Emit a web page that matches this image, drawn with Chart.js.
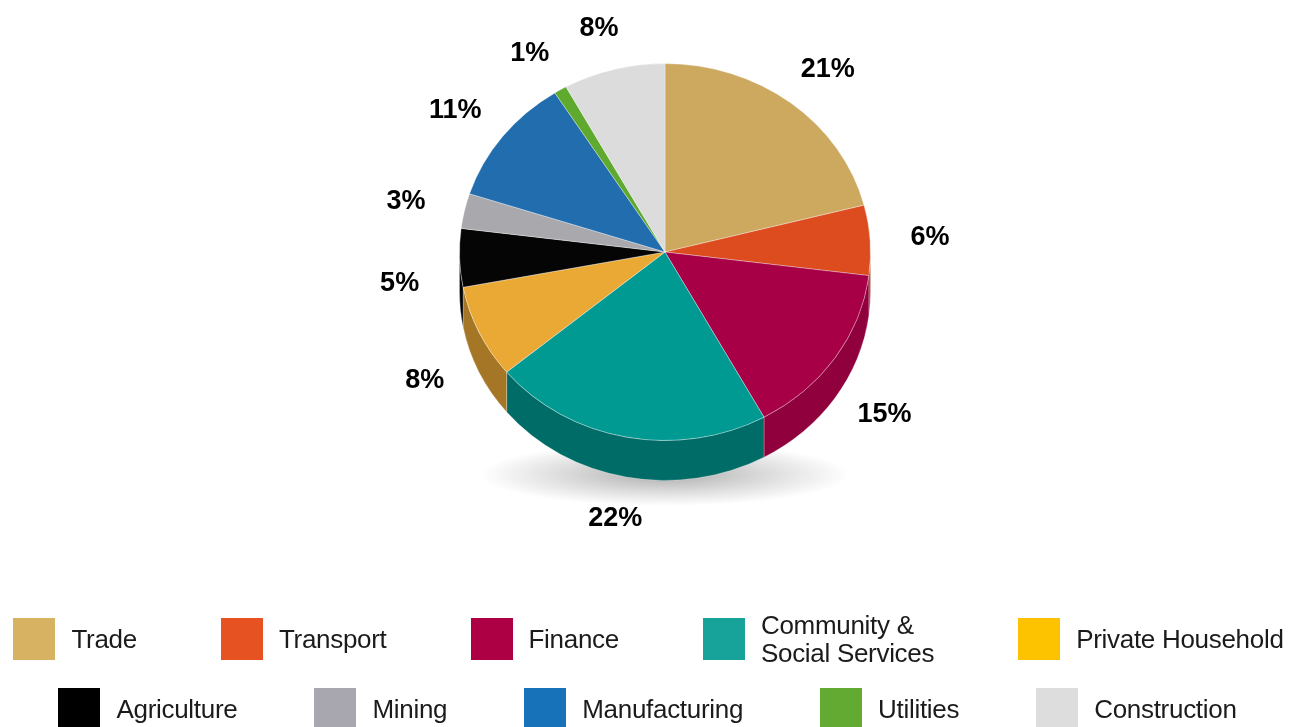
<!DOCTYPE html>
<html>
<head>
<meta charset="utf-8">
<script src="https://cdn.jsdelivr.net/npm/chart.js@4/dist/chart.umd.min.js"></script>
<style>
  html, body { margin: 0; padding: 0; background: #fff; }
  #wrap { position: relative; width: 1289px; height: 727px; overflow: hidden; }
  #chart { position: absolute; left: 0; top: 0; }
  .legend-row { position: absolute; width: 1289px; height: 42px; display: flex; justify-content: center; align-items: center; }
  #row1 { top: 618px; left: 4px; column-gap: 84px; }
  #row2 { top: 688px; left: 3px; column-gap: 77px; }
  .legend-item { display: flex; align-items: center; }
  .legend-box { width: 42px; height: 42px; flex: 0 0 42px; margin-right: 16px; }
  .legend-text { font-family: "Liberation Sans", Arial, sans-serif; font-size: 26px; color: #1b1b1b; line-height: 28px; white-space: pre-line; letter-spacing: -0.3px; }
</style>
</head>
<body>
<div id="wrap">
  <canvas id="chart" width="1289" height="727"></canvas>
  <div class="legend-row" id="row1"></div>
  <div class="legend-row" id="row2"></div>
</div>
<script>
// Employment share by sector (%)
const categories = ["Trade", "Transport", "Finance", "Community &\nSocial Services", "Private Household",
                    "Agriculture", "Mining", "Manufacturing", "Utilities", "Construction"];
const shares = [21, 6, 15, 22, 8, 5, 3, 11, 1, 8];
const pieColors = ["#CDA95F", "#DD4C1E", "#A80046", "#009A93", "#EAA935",
                   "#050505", "#A9A9AD", "#226DAE", "#5EA92E", "#DCDCDC"];
const legendColors = ["#D8B263", "#E75223", "#AD0044", "#17A39A", "#FDC300",
                      "#000000", "#A8A7AF", "#1872B9", "#62AA31", "#DDDDDD"];

const TILT = 0.917;   // vertical squash of the pie top
const DEPTH = 40;     // thickness of the pie wall

function shade(hex, f) {
  const n = parseInt(hex.slice(1), 16);
  const r = Math.round(((n >> 16) & 255) * f);
  const g = Math.round(((n >> 8) & 255) * f);
  const b = Math.round((n & 255) * f);
  return `rgb(${r},${g},${b})`;
}

// Draws the shadow and the wall of the pie, then tilts the top face.
const tiltedPie = {
  id: 'tiltedPie',
  beforeDatasetsDraw(chart) {
    const ctx = chart.ctx;
    const arcs = chart.getDatasetMeta(0).data;
    if (!arcs.length) return;
    const { x: cx, y: cy, outerRadius: R } = arcs[0].getProps(['x', 'y', 'outerRadius'], true);

    // soft floor shadow
    ctx.save();
    ctx.translate(cx, cy + R * TILT + DEPTH - 6);
    ctx.scale(1, 0.17);
    const g = ctx.createRadialGradient(0, 0, 0, 0, 0, R * 0.9);
    g.addColorStop(0, 'rgba(0,0,0,0.32)');
    g.addColorStop(0.6, 'rgba(0,0,0,0.12)');
    g.addColorStop(1, 'rgba(0,0,0,0)');
    ctx.fillStyle = g;
    ctx.beginPath();
    ctx.arc(0, 0, R * 0.9, 0, Math.PI * 2);
    ctx.fill();
    ctx.restore();

    // wall segments for the front half
    arcs.forEach((arc, i) => {
      const p = arc.getProps(['startAngle', 'endAngle', 'outerRadius'], true);
      const norm = a => { let v = a % (2 * Math.PI); if (v < -Math.PI / 2) v += 2 * Math.PI; return v; };
      let a0 = norm(p.startAngle), a1 = a0 + (p.endAngle - p.startAngle);
      a0 = Math.max(a0, 0); a1 = Math.min(a1, Math.PI);
      if (a1 <= a0) return;
      const r = p.outerRadius;
      ctx.save();
      ctx.beginPath();
      ctx.ellipse(cx, cy, r, r * TILT, 0, a0, a1, false);
      ctx.ellipse(cx, cy + DEPTH, r, r * TILT, 0, a1, a0, true);
      ctx.closePath();
      ctx.fillStyle = shade(pieColors[i], i === 2 ? 0.85 : 0.7);
      ctx.fill();
      ctx.strokeStyle = 'rgba(255,255,255,0.25)';
      ctx.lineWidth = 1;
      ctx.stroke();
      ctx.restore();
    });

    ctx.save();
    ctx.translate(cx, cy);
    ctx.scale(1, TILT);
    ctx.translate(-cx, -cy);
  },
  afterDatasetsDraw(chart) {
    const ctx = chart.ctx;
    ctx.restore();
    const arcs = chart.getDatasetMeta(0).data;
    if (!arcs.length) return;

    // percentage labels around the pie
    ctx.save();
    ctx.font = 'bold 27px "Liberation Sans", Arial, sans-serif';
    ctx.fillStyle = '#000';
    ctx.textAlign = 'center';
    ctx.textBaseline = 'middle';
    arcs.forEach((arc, i) => {
      const p = arc.getProps(['x', 'y', 'startAngle', 'endAngle', 'outerRadius'], true);
      const mid = (p.startAngle + p.endAngle) / 2;
      const s = Math.sin(mid);
      const x = p.x + (p.outerRadius + 60) * Math.cos(mid);
      const y = p.y + (p.outerRadius + 46) * TILT * s + (s > 0 ? DEPTH * (0.6 + 0.4 * s) : 0);
      ctx.fillText(shares[i] + '%', x, y);
    });
    ctx.restore();
  }
};

new Chart(document.getElementById('chart'), {
  type: 'pie',
  data: {
    labels: categories,
    datasets: [{
      data: shares,
      backgroundColor: pieColors,
      borderColor: 'rgba(255,255,255,0.35)',
      borderWidth: 1,
      clip: false
    }]
  },
  options: {
    responsive: false,
    animation: false,
    events: [],
    layout: { padding: { top: 46, bottom: 269, left: 200, right: 159 } },
    plugins: { legend: { display: false }, tooltip: { enabled: false } }
  },
  plugins: [tiltedPie]
});

// legend: two rows of five
categories.forEach((label, i) => {
  const item = document.createElement('div');
  item.className = 'legend-item';
  const box = document.createElement('div');
  box.className = 'legend-box';
  box.style.background = legendColors[i];
  const txt = document.createElement('div');
  txt.className = 'legend-text';
  txt.textContent = label;
  item.appendChild(box);
  item.appendChild(txt);
  document.getElementById(i < 5 ? 'row1' : 'row2').appendChild(item);
});
</script>
</body>
</html>
